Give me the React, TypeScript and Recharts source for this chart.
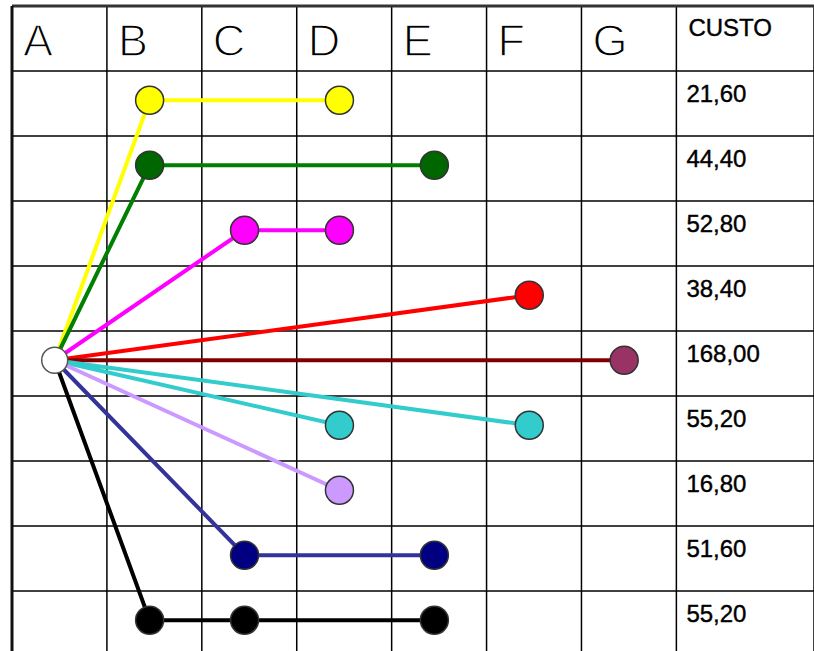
import React from 'react';
import {
  ComposedChart,
  Line,
  Scatter,
  XAxis,
  YAxis,
  CartesianGrid,
  ReferenceLine,
} from 'recharts';

const columns = ['A', 'B', 'C', 'D', 'E', 'F', 'G'];
const costHeader = 'CUSTO';
const costs = [21.6, 44.4, 52.8, 38.4, 168.0, 55.2, 16.8, 51.6, 55.2];

// every route leaves from column A on the row of the 168,00 route
const originColumn = 'A';
const originRow = 4;

// stops for each row; a row with two lists has two branches out of A
const routes: string[][][] = [
  [['B', 'D']],
  [['B', 'E']],
  [['C', 'D']],
  [['F']],
  [['G']],
  [['D'], ['F']],
  [['D']],
  [['C', 'E']],
  [['B', 'C', 'E']],
];

const lineColors = ['#ffff00', '#008000', '#ff00ff', '#ff0000', '#800000', '#33cccc', '#cc99ff', '#333399', '#000000'];
const dotColors = ['#ffff00', '#006600', '#ff00ff', '#ff0000', '#993366', '#33cccc', '#cc99ff', '#000080', '#000000'];

const colX = (c: string) => columns.indexOf(c) + 0.45;
const rowY = (r: number) => r + 0.45;

const origin = { x: colX(originColumn), y: rowY(originRow), origin: true };

const routeData = routes.map((branches, r) => {
  const pts = (cols: string[]) => cols.map((c) => ({ x: colX(c), y: rowY(r), origin: false }));
  if (branches.length > 1) {
    return [...pts(branches[0]).reverse(), origin, ...pts(branches[1])];
  }
  return [origin, ...pts(branches[0])];
});

const headerData = [...columns, costHeader].map((label, i) => ({ x: i, y: -1, label }));
const costData = costs.map((c, i) => ({
  x: columns.length,
  y: i,
  label: c.toFixed(2).replace('.', ','),
}));

const xTicks = columns.map((_, i) => i).concat(columns.length);
const yTicks = [-1, ...costs.map((_, i) => i), costs.length];

const FONT = "'Liberation Sans', Arial, sans-serif";

const renderDot = (fill: string) => (props: any) => {
  const { cx, cy, payload, index } = props;
  if (payload.origin) return <g key={index} />;
  return <circle key={index} cx={cx} cy={cy} r={14} fill={fill} stroke="#333" strokeWidth={1.5} />;
};

const HeaderText = (props: any) => {
  const { cx, cy, payload } = props;
  if (payload.label === costHeader) {
    return (
      <text x={cx + 12} y={cy + 30} fontFamily={FONT} fontSize={24} fill="#000" stroke="#000" strokeWidth={0.4}>
        {payload.label}
      </text>
    );
  }
  // thin letters: white outline eats into the glyph
  return (
    <text x={cx + 11} y={cy + 50} fontFamily={FONT} fontSize={45} fill="#000" stroke="#fff" strokeWidth={1.4}>
      {payload.label}
    </text>
  );
};

const CostText = (props: any) => {
  const { cx, cy, payload } = props;
  return (
    <text x={cx + 10} y={cy + 31} fontFamily={FONT} fontSize={24} fill="#000" stroke="#000" strokeWidth={0.4}>
      {payload.label}
    </text>
  );
};

export default function App() {
  return (
    <div style={{ position: 'absolute', left: 0, top: 0, width: 814, height: 651, overflow: 'hidden', background: '#fff' }}>
      <ComposedChart width={814} height={656} margin={{ top: 6, right: 0, bottom: 0, left: 12 }}>
        <XAxis type="number" dataKey="x" domain={[0, 8.45]} ticks={xTicks} hide allowDataOverflow />
        <YAxis type="number" dataKey="y" domain={[-1, 9]} ticks={yTicks} reversed hide allowDataOverflow />
        <CartesianGrid stroke="#000" strokeWidth={1.5} />
        <ReferenceLine y={-1} stroke="#333" strokeWidth={3} />
        <ReferenceLine x={0} stroke="#111" strokeWidth={3} />
        <Scatter data={headerData} shape={HeaderText} isAnimationActive={false} />
        <Scatter data={costData} shape={CostText} isAnimationActive={false} />
        {routeData.map((data, i) => (
          <Line
            key={i}
            data={data}
            dataKey="y"
            type="linear"
            stroke={lineColors[i]}
            strokeWidth={4}
            dot={renderDot(dotColors[i])}
            activeDot={false}
            isAnimationActive={false}
          />
        ))}
        <Scatter
          data={[origin]}
          shape={(p: any) => <circle cx={p.cx} cy={p.cy} r={13} fill="#fff" stroke="#555" strokeWidth={1.5} />}
          isAnimationActive={false}
        />
      </ComposedChart>
    </div>
  );
}
